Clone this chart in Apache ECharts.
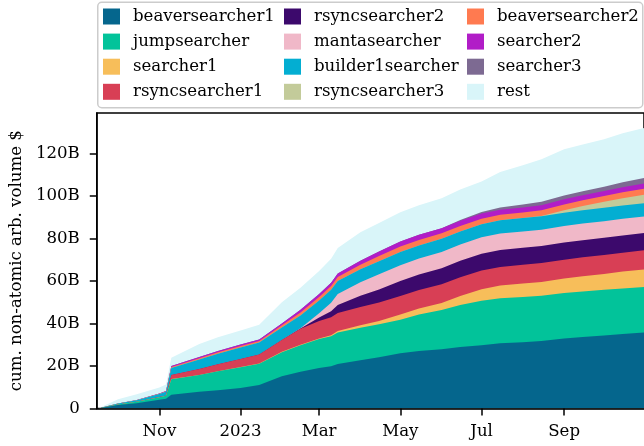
<!DOCTYPE html>
<html>
<head>
<meta charset="utf-8">
<script src="https://cdn.jsdelivr.net/npm/echarts@6/dist/echarts.min.js"></script>
<style>
  html, body { margin: 0; padding: 0; background: #fff; }
  #chart { width: 644px; height: 446px; }
</style>
</head>
<body>
<div id="chart"></div>
<script>
// data, in billions of $ (thickness of each stacked layer)
var dates = ['2022-09-16', '2022-10-01', '2022-10-15', '2022-11-01', '2022-11-06', '2022-11-10',
  '2022-12-01', '2022-12-15', '2023-01-01', '2023-01-15', '2023-02-01', '2023-02-15',
  '2023-03-01', '2023-03-10', '2023-03-15', '2023-04-01', '2023-04-15', '2023-05-01',
  '2023-05-15', '2023-06-01', '2023-06-15', '2023-07-01', '2023-07-15', '2023-08-01',
  '2023-08-15', '2023-09-01', '2023-09-15', '2023-10-01', '2023-10-15', '2023-10-31'];

var beaversearcher1 = [0, 1.6, 2.5, 4.1, 4.6, 6.5, 7.9, 8.6, 9.6, 11.0, 15.2, 17.3, 19.0, 19.9, 20.9,
  22.7, 24.1, 26.0, 27.0, 27.9, 28.9, 29.8, 30.7, 31.2, 31.7, 32.9, 33.6, 34.3, 35.0, 35.7];
var jumpsearcher = [0, 0.3, 0.7, 1.2, 1.4, 7.3, 7.8, 8.9, 9.8, 10.1, 11.3, 12.5, 13.7, 14.1, 14.8,
  15.3, 15.5, 15.8, 17.2, 18.4, 19.8, 20.9, 21.2, 21.3, 21.3, 21.4, 21.4, 21.5, 21.5, 21.5];
var searcher1 = [0, 0, 0, 0, 0, 0.05, 0.05, 0.05, 0.1, 0.1, 0.15, 0.2, 0.25, 0.5, 0.7,
  1.2, 1.6, 2.4, 2.8, 3.3, 4.2, 5.4, 5.9, 6.3, 6.5, 6.8, 7.2, 7.5, 7.9, 8.2];
var rsyncsearcher1 = [0, 0, 0, 0.1, 0.1, 1.9, 2.8, 3.3, 3.8, 4.2, 5.6, 7.5, 8.2, 8.4, 8.5,
  8.6, 8.7, 8.7, 8.7, 8.8, 8.8, 8.8, 8.8, 8.8, 8.9, 8.9, 8.9, 8.9, 8.9, 9.0];
var rsyncsearcher2 = [0, 0, 0, 0, 0, 0, 0, 0, 0, 0, 0, 0.1, 1.6, 2.8, 3.8,
  5.2, 6.1, 7.1, 7.3, 7.6, 7.8, 7.9, 8.0, 8.0, 8.0, 8.1, 8.1, 8.1, 8.1, 8.1];
var mantasearcher = [0, 0, 0, 0, 0, 0, 0, 0, 0, 0, 0, 0.2, 2.1, 4.0, 5.2,
  6.4, 7.1, 7.4, 7.5, 7.6, 7.6, 7.7, 7.7, 7.7, 7.7, 7.7, 7.8, 7.8, 7.8, 7.8];
var builder1searcher = [0, 0.4, 0.7, 1.4, 1.8, 3.3, 4.5, 4.9, 5.4, 5.6, 5.9, 6.0, 6.0, 6.1, 6.1,
  6.1, 6.2, 6.2, 6.2, 6.2, 6.2, 6.2, 6.2, 6.3, 6.3, 6.3, 6.3, 6.3, 6.3, 6.3];
var rsyncsearcher3 = [0, 0, 0, 0, 0, 0, 0, 0, 0, 0, 0, 0, 0, 0, 0,
  0, 0, 0, 0, 0, 0, 0, 0, 0, 0.2, 1.2, 1.9, 2.8, 3.4, 4.0];
var beaversearcher2 = [0, 0, 0, 0.1, 0.1, 0.5, 0.6, 0.7, 0.7, 0.8, 1.0, 1.4, 1.6, 1.8, 1.9,
  2.1, 2.4, 2.6, 2.6, 2.6, 2.6, 2.6, 2.6, 2.6, 2.6, 2.7, 2.7, 2.7, 2.8, 2.8];
var searcher2 = [0, 0.1, 0.1, 0.2, 0.2, 0.5, 0.6, 0.6, 0.7, 0.7, 0.8, 1.2, 1.4, 1.5, 1.6,
  1.9, 2.1, 2.4, 2.4, 2.4, 2.4, 2.4, 2.4, 2.4, 2.4, 2.4, 2.4, 2.4, 2.4, 2.4];
var searcher3 = [0, 0, 0, 0, 0, 0, 0, 0, 0, 0, 0, 0, 0, 0, 0,
  0, 0, 0, 0, 0, 0.4, 0.7, 1.0, 1.4, 1.6, 1.8, 1.9, 2.0, 2.3, 2.6];
var rest = [0, 2.0, 2.7, 2.8, 3.1, 3.8, 6.1, 6.5, 6.6, 6.9, 10.0, 10.4, 10.8, 11.3, 12.0,
  13.4, 13.5, 13.7, 13.9, 14.1, 14.3, 14.4, 16.8, 18.4, 20.1, 21.7, 22.0, 22.4, 23.1, 23.6];

var names = ['beaversearcher1', 'jumpsearcher', 'searcher1', 'rsyncsearcher1',
  'rsyncsearcher2', 'mantasearcher', 'builder1searcher', 'rsyncsearcher3',
  'beaversearcher2', 'searcher2', 'searcher3', 'rest'];
var values = [beaversearcher1, jumpsearcher, searcher1, rsyncsearcher1,
  rsyncsearcher2, mantasearcher, builder1searcher, rsyncsearcher3,
  beaversearcher2, searcher2, searcher3, rest];
var colors = ['#05668d', '#02c39a', '#f7be5a', '#d83f55', '#3c096c', '#f0b8c8',
  '#03aed2', '#c3cb9a', '#ff7a50', '#b11dc7', '#7d6a92', '#d9f5f9'];

var yTicks = [0, 20, 40, 60, 80, 100, 120];
var xTicks = ['2022-11-01', '2023-01-01', '2023-03-01', '2023-05-01', '2023-07-01', '2023-09-01'];
var monthNames = ['Jan', 'Feb', 'Mar', 'Apr', 'May', 'Jun', 'Jul', 'Aug', 'Sep', 'Oct', 'Nov', 'Dec'];

function toTime(s) {
  var p = s.split('-');
  return new Date(+p[0], +p[1] - 1, +p[2]).getTime();
}

var font = 'DejaVu Serif';
var fs = 16.6;

// running totals: each layer is drawn from 0 up to the sum of itself and all layers below,
// upper layers first so that lower ones paint over them (same look as a stackplot)
var cum = [];
var running = dates.map(function () { return 0; });
for (var i = 0; i < values.length; i++) {
  running = running.map(function (v, j) { return v + values[i][j]; });
  cum.push(running);
}

var series = [];
for (var k = names.length - 1; k >= 0; k--) {
  var layerTop = cum[k];
  series.push({
    name: names[k],
    type: 'line',
    symbol: 'none',
    showSymbol: false,
    lineStyle: { width: 0 },
    itemStyle: { color: colors[k] },
    areaStyle: { color: colors[k], opacity: 1 },
    emphasis: { disabled: true },
    data: dates.map(function (d, j) { return [toTime(d), +layerTop[j].toFixed(3)]; })
  });
}

// legend in 3 columns, filled column by column
var legendCols = [103, 284, 467];
var legends = legendCols.map(function (x, c) {
  return {
    orient: 'vertical',
    left: x,
    top: 8,
    padding: 0,
    itemWidth: 17,
    itemHeight: 16,
    itemGap: 8.1,
    icon: 'rect',
    selectedMode: false,
    z: 5,
    textStyle: { fontFamily: font, fontSize: fs, lineHeight: 16, color: '#000', padding: [0, 0, 0, 8] },
    data: names.slice(c * 4, c * 4 + 4)
  };
});

var myChart = echarts.init(document.getElementById('chart'));
var option = {
  animation: false,
  backgroundColor: '#fff',
  graphic: [{
    type: 'rect',
    left: 97,
    top: 1.5,
    shape: { width: 545, height: 105.5, r: 4 },
    style: { fill: '#fff', stroke: '#cccccc', lineWidth: 1.5 },
    z: 1
  }],
  legend: legends,
  grid: {
    left: 96, right: -2, top: 113, bottom: 37.5,
    show: true, borderColor: '#000', borderWidth: 1.5
  },
  xAxis: {
    type: 'value',
    min: toTime('2022-09-15'),
    max: toTime('2023-10-31'),
    z: 10,
    splitLine: { show: false },
    axisLine: { lineStyle: { color: '#000', width: 1.5 } },
    axisTick: { length: 7, lineStyle: { color: '#000', width: 1.5 }, customValues: xTicks.map(toTime) },
    axisLabel: {
      customValues: xTicks.map(toTime),
      margin: 15,
      fontFamily: font, fontSize: fs, color: '#000',
      formatter: function (v) {
        var d = new Date(v);
        return d.getMonth() === 0 ? String(d.getFullYear()) : monthNames[d.getMonth()];
      }
    }
  },
  yAxis: {
    type: 'value',
    min: 0,
    max: 139,
    z: 10,
    name: 'cum. non-atomic arb. volume $',
    nameLocation: 'middle',
    nameGap: 70,
    nameTextStyle: { fontFamily: font, fontSize: fs, color: '#000' },
    splitLine: { show: false },
    axisLine: { show: true, lineStyle: { color: '#000', width: 1.5 } },
    axisTick: { show: true, length: 7, lineStyle: { color: '#000', width: 1.5 }, customValues: yTicks },
    axisLabel: {
      customValues: yTicks,
      margin: 17,
      fontFamily: font, fontSize: fs, color: '#000',
      formatter: function (v) { return v === 0 ? '0' : v + 'B'; }
    }
  },
  series: series
};
myChart.setOption(option);
</script>
</body>
</html>
